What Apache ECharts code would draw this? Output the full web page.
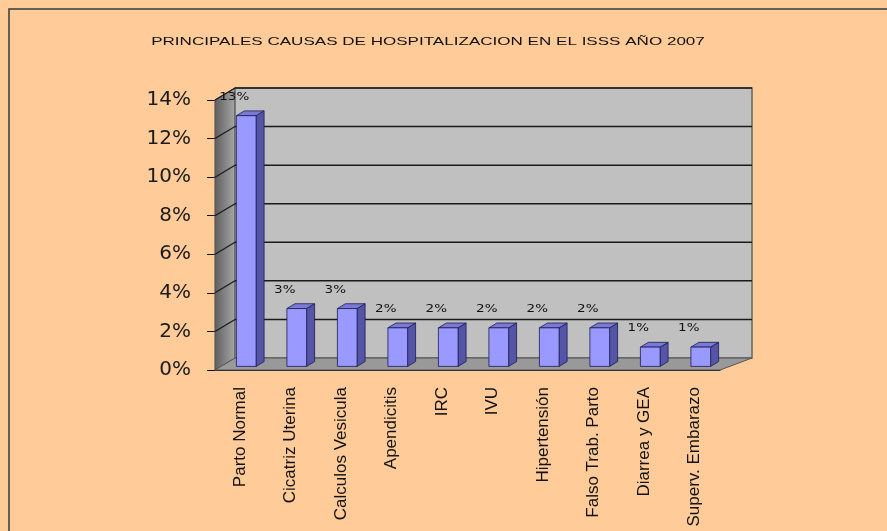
<!DOCTYPE html>
<html>
<head>
<meta charset="utf-8">
<script src="https://cdn.jsdelivr.net/npm/echarts@6/dist/echarts.min.js"></script>
<style>
  html, body { margin: 0; padding: 0; background: #FFCC99; overflow: hidden; }
  #main { width: 887px; height: 531px; }
</style>
</head>
<body>
<div id="main"></div>
<script>
// datos del grafico
var titulo = 'PRINCIPALES CAUSAS DE HOSPITALIZACION EN EL ISSS AÑO 2007';
var causas = ['Parto Normal', 'Cicatriz Uterina', 'Calculos Vesicula', 'Apendicitis', 'IRC',
    'IVU', 'Hipertensión', 'Falso Trab. Parto', 'Diarrea y GEA', 'Superv. Embarazo'];
var porcentajes = [13, 3, 3, 2, 2, 2, 2, 2, 1, 1];
var ticksY = [0, 2, 4, 6, 8, 10, 12, 14];

// profundidad del efecto 3D
var DX = 20, DXR = 32, DY = -12;

var myChart = echarts.init(document.getElementById('main'));

// paredes y piso
function renderParedes(params, api) {
    var cs = params.coordSys;
    var L = cs.x, R = cs.x + cs.width, T = cs.y, B = cs.y + cs.height;
    var hijos = [];
    // pared lateral
    hijos.push({
        type: 'polygon',
        shape: {points: [[L, T], [L + DX, T + DY], [L + DX, B + DY], [L, B]]},
        style: {
            fill: new echarts.graphic.LinearGradient(0, 0, 1, 0, [
                {offset: 0, color: '#5e5e5e'}, {offset: 1, color: '#a8a8a8'}
            ]),
            stroke: '#555', lineWidth: 1
        }
    });
    // pared del fondo
    hijos.push({
        type: 'rect',
        shape: {x: L + DX, y: T + DY, width: R + DXR - L - DX, height: B - T},
        style: {fill: '#C0C0C0', stroke: '#666', lineWidth: 1.5}
    });
    // piso
    hijos.push({
        type: 'polygon',
        shape: {points: [[L, B], [R, B], [R + DXR, B + DY], [L + DX, B + DY]]},
        style: {fill: '#999999', stroke: '#555', lineWidth: 1}
    });
    // lineas de division
    for (var i = 1; i < ticksY.length; i++) {
        var y = api.coord([0, ticksY[i]])[1];
        hijos.push({
            type: 'line',
            shape: {x1: L + DX, y1: y + DY, x2: R + DXR, y2: y + DY},
            style: {stroke: '#1a1a1a', lineWidth: 1.5}
        });
        hijos.push({
            type: 'line',
            shape: {x1: L, y1: y, x2: L + DX, y2: y + DY},
            style: {stroke: '#1a1a1a', lineWidth: 1.2}
        });
    }
    return {type: 'group', children: hijos};
}

// barras 3D
function renderBarra(params, api) {
    var idx = api.value(0), val = api.value(1);
    var p0 = api.coord([idx, 0]);
    var p1 = api.coord([idx, val]);
    var banda = api.size([1, 0])[0];
    var bw = banda * 0.39;
    var fx = 0.3 * DX, fy = 0.3 * DY;
    var sx = 0.4 * DX, sy = 0.4 * DY;
    var x0 = p0[0] - bw / 2 + fx, x1 = x0 + bw;
    var yb = p0[1] + fy, yt = p1[1] + fy;
    var borde = {stroke: '#1c1c50', lineWidth: 0.8};
    return {
        type: 'group',
        children: [
            {
                type: 'polygon',
                shape: {points: [[x1, yb], [x1 + sx, yb + sy], [x1 + sx, yt + sy], [x1, yt]]},
                style: echarts.util.extend({fill: '#5555a8'}, borde)
            },
            {
                type: 'polygon',
                shape: {points: [[x0, yt], [x1, yt], [x1 + sx, yt + sy], [x0 + sx, yt + sy]]},
                style: echarts.util.extend({fill: '#7a7ad6'}, borde)
            },
            {
                type: 'rect',
                shape: {x: x0, y: yt, width: bw, height: yb - yt},
                style: echarts.util.extend({fill: '#9999FF'}, borde)
            },
            {
                type: 'text',
                x: p0[0] - 6,
                y: p1[1] - 22,
                scaleX: 1.35,
                style: {
                    text: val + '%',
                    fill: '#111',
                    font: '10px "DejaVu Sans"',
                    textAlign: 'center',
                    textVerticalAlign: 'middle'
                }
            }
        ]
    };
}

var datosBarras = porcentajes.map(function (v, i) { return [i, v]; });

option = {
    backgroundColor: '#FFCC99',
    animation: false,
    grid: {left: 215, right: 167, top: 100, bottom: 161},
    graphic: [
        {
            type: 'polyline',
            shape: {points: [[9, 540], [9, 9], [900, 9]]},
            style: {fill: null, stroke: '#3a3a3a', lineWidth: 1.5}
        },
        {
            type: 'text',
            x: 428,
            y: 42,
            scaleX: 1.55,
            style: {
                text: titulo,
                font: '11px "Liberation Sans"',
                fill: '#111',
                textAlign: 'center',
                textVerticalAlign: 'middle'
            }
        }
    ],
    xAxis: {
        type: 'category',
        data: causas,
        axisLine: {lineStyle: {color: '#111', width: 1.2}},
        axisTick: {length: 8, lineStyle: {color: '#111'}},
        axisLabel: {
            rotate: 90,
            margin: 17,
            interval: 0,
            fontSize: 17,
            fontFamily: 'Liberation Sans',
            color: '#111'
        },
        splitLine: {show: false}
    },
    yAxis: {
        type: 'value',
        min: 0,
        max: 14,
        interval: 2,
        axisLine: {show: true, lineStyle: {color: '#111', width: 1.2}},
        axisTick: {show: true, length: 8, lineStyle: {color: '#111'}},
        axisLabel: {
            formatter: '{value}%',
            margin: 24,
            fontSize: 20,
            fontFamily: 'DejaVu Sans',
            color: '#1a1a1a'
        },
        splitLine: {show: false}
    },
    series: [
        {
            type: 'custom',
            name: 'paredes',
            renderItem: renderParedes,
            data: [[0, 0]],
            clip: false,
            silent: true,
            z: 1
        },
        {
            type: 'custom',
            name: 'Causas',
            renderItem: renderBarra,
            data: datosBarras,
            clip: false,
            z: 2
        }
    ]
};

myChart.setOption(option);
</script>
</body>
</html>
